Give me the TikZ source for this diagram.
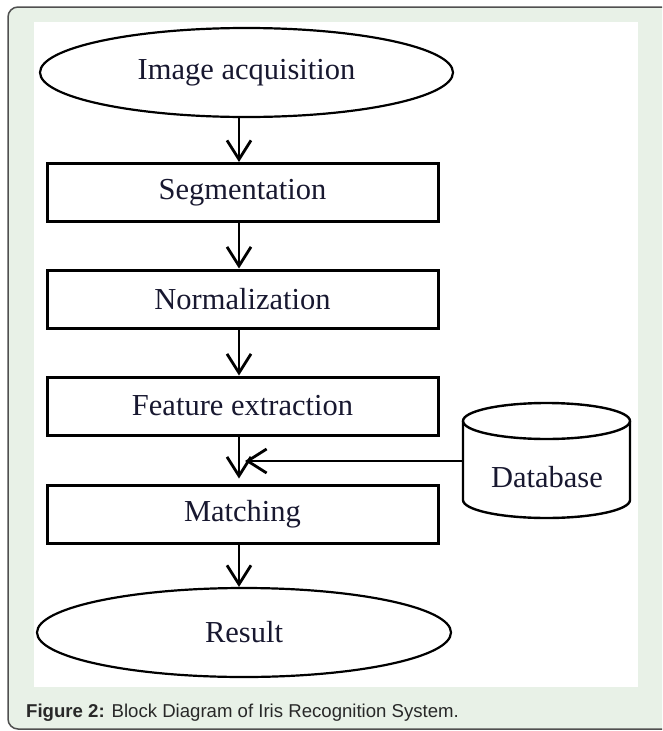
\documentclass[tikz,border=0pt]{standalone}
\usepackage{fontspec}
\setmainfont{Liberation Serif}
\newfontfamily\capfont{Liberation Sans}
\usetikzlibrary{shapes.geometric,arrows.meta}
\definecolor{outerbg}{RGB}{232,241,231}
\definecolor{outerline}{RGB}{80,80,80}
\definecolor{txt}{RGB}{24,24,48}
\definecolor{captxt}{RGB}{40,40,40}
\tikzset{
  stepbox/.style={draw=black, line width=3pt, rectangle, minimum width=391pt, minimum height=58pt, inner sep=0pt, text=txt, font=\fontsize{30.5}{36}\selectfont},
  termnode/.style={draw=black, line width=2.2pt, ellipse, minimum width=413pt, minimum height=89pt, inner sep=0pt, text=txt, font=\fontsize{30.5}{36}\selectfont},
  arr/.style={line width=2.8pt, -{Straight Barb[length=19pt, width=24pt, line width=2.8pt]}},
}
\begin{document}
\begin{tikzpicture}[x=1pt, y=-1pt]
\useasboundingbox (0,0) rectangle (662,731);
% frame
\begin{scope}
\clip (0,0) rectangle (662,731);
\draw[outerline, fill=outerbg, line width=1.5pt, rounded corners=10pt] (8,7) rectangle (690,729);
\end{scope}
\fill[white] (34,22) rectangle (638,687);
% nodes
\node[termnode] (img) at (246.5,72.5) {Image acquisition};
\node[stepbox] (seg) at (242.5,192.5) {Segmentation};
\node[stepbox] (norm) at (242.5,299) {Normalization};
\node[stepbox] (feat) at (242.5,406) {Feature extraction};
\node[stepbox] (match) at (242.5,514) {Matching};
\node[termnode, minimum width=414pt] (res) at (244,632.5) {Result};
% database cylinder
\draw[line width=2.4pt] (463,421) -- (463,500) arc[start angle=180, end angle=0, x radius=83.5, y radius=18] -- (630,421);
\draw[line width=2.4pt] (546.5,421) ellipse [x radius=83.5, y radius=18];
\node[text=txt, font=\fontsize{30.5}{36}\selectfont] (db) at (547,477) {Database};
\coordinate (dbin) at (463,461);
\coordinate (ax) at (239,0);
\coordinate (join) at (245,461);
% connectors
\draw[arr] (ax |- img.south) -- (ax |- seg.north);
\draw[arr] (ax |- seg.south) -- (ax |- norm.north);
\draw[arr] (ax |- norm.south) -- (ax |- feat.north);
\draw[arr, shorten >=5pt] (ax |- feat.south) -- (ax |- match.north);
\draw[arr] (dbin) -- (join);
\draw[arr] (ax |- match.south) -- (ax |- res.north);
% caption
\node[anchor=base west, inner sep=0pt, text=captxt, font=\capfont\fontsize{18.6}{21}\selectfont] (cap) at (26,717) {\textbf{Figure 2:} Block Diagram of Iris Recognition System.};
\end{tikzpicture}
\end{document}
